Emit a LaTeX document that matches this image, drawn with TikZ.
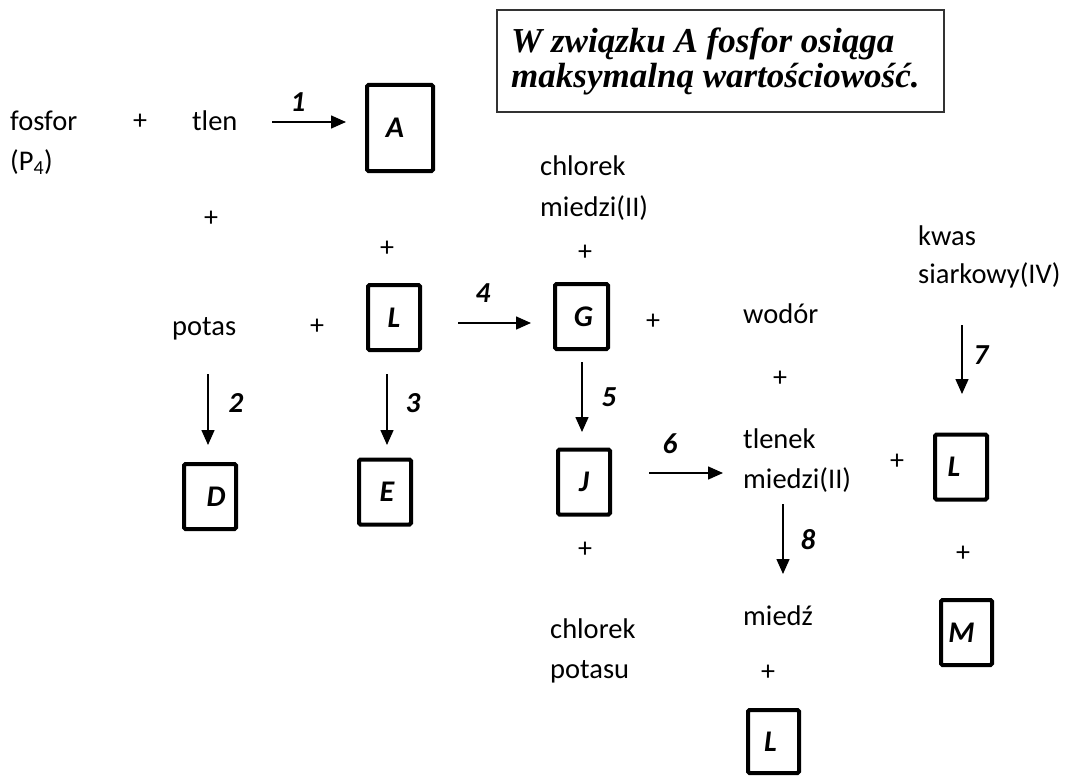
\documentclass[tikz,border=0pt]{standalone}
\usepackage{fontspec}
\setmainfont{Carlito}
\newfontfamily\serifbi{Liberation Serif}
\usetikzlibrary{arrows.meta}

\tikzset{
  txt/.style={anchor=base west, inner sep=0pt, font=\fontsize{28.5}{28.5}\selectfont},
  plus/.style={inner sep=0pt, font=\fontsize{28}{28}\selectfont},
  num/.style={inner sep=0pt, font=\fontsize{29}{29}\selectfont\bfseries\itshape},
  box/.style={draw, line width=4pt, rounded corners=1.5pt, inner sep=0pt,
    minimum width=52pt, minimum height=65pt,
    font=\fontsize{30}{30}\selectfont\bfseries\itshape},
  note/.style={anchor=base west, inner sep=0pt,
    font=\serifbi\bfseries\itshape\fontsize{35}{35}\selectfont},
  arr/.style={line width=1.5pt, -{Triangle[length=15pt,width=13pt]}},
}

\begin{document}
\begin{tikzpicture}[x=1pt,y=-1pt]
\useasboundingbox (0,0) rectangle (1069,776);

% note box
\draw[line width=1.2pt, black!80] (497,10) rectangle (944,112);
\node[note] (note1) at (511,53) {W związku A fosfor osiąga};
\node[note] (note2) at (511,88) {maksymalną wartościowość.};

% reaction 1
\node[txt] (fosfor) at (10,130) {fosfor};
\node[txt] (p4) at (10,170) {(P\textsubscript{4})};
\node[plus] (p1) at (140,122) {+};
\node[txt] (tlen) at (192,130) {tlen};
\node[box, minimum width=66pt, minimum height=86pt] (A) at (400,128) {\kern-10pt A};
\coordinate (a1s) at (272,122);
\coordinate (a1e) at (346,122);
\draw[arr] (a1s) -- (a1e);
\node[num] (n1) at (298,102) {1};

\node[plus] (p2) at (211,219) {+};
\node[plus] (p3) at (387,249) {+};

% copper(II) chloride
\node[txt] (chl1) at (540,175) {chlorek};
\node[txt] (chl2) at (540,216) {miedzi(II)};
\node[plus] (p4a) at (585,253) {+};

% sulfurous acid
\node[txt] (kw1) at (918,245) {kwas};
\node[txt] (kw2) at (918,283) {siarkowy(IV)};

% middle row
\node[txt] (potas) at (172,335) {potas};
\node[plus] (p5) at (317,327) {+};
\node[box] (L1) at (394,317.5) {L};
\coordinate (a4s) at (458,323);
\coordinate (a4e) at (531,323);
\draw[arr] (a4s) -- (a4e);
\node[num] (n4) at (483,293) {4};
\node[box, minimum width=53pt] (G) at (581.5,316.5) {\kern4pt G};
\node[plus] (p6) at (653,322) {+};
\node[txt] (wodor) at (743,323) {wodór};

\coordinate (a7s) at (962,325);
\coordinate (a7e) at (962,394);
\draw[arr] (a7s) -- (a7e);
\node[num] (n7) at (981,355) {7};

\node[plus] (p7) at (780,379) {+};

% arrows 2, 3, 5
\coordinate (a2s) at (208,374);
\coordinate (a2e) at (208,445);
\draw[arr] (a2s) -- (a2e);
\node[num] (n2) at (236,403) {2};
\coordinate (a3s) at (387,374);
\coordinate (a3e) at (387,445);
\draw[arr] (a3s) -- (a3e);
\node[num] (n3) at (413,403) {3};
\coordinate (a5s) at (582,362);
\coordinate (a5e) at (582,432);
\draw[arr] (a5s) -- (a5e);
\node[num] (n5) at (609,397) {5};

% lower row
\node[box] (D) at (210,496.5) {\kern12pt D};
\node[box] (E) at (385,492) {\kern4pt E};
\node[box] (J) at (584,482) {J};

\coordinate (a6s) at (649,473);
\coordinate (a6e) at (723,473);
\draw[arr] (a6s) -- (a6e);
\node[num] (n6) at (670,444) {6};

\node[txt] (tl1) at (743,448) {tlenek};
\node[txt] (tl2) at (743,488) {miedzi(II)};
\node[plus] (p8) at (897,462) {+};
\node[box] (L2) at (961,467) {\kern-14pt L};

\coordinate (a8s) at (783,504);
\coordinate (a8e) at (783,574);
\draw[arr] (a8s) -- (a8e);
\node[num] (n8) at (808,540) {8};

\node[plus] (p9) at (585,550) {+};
\node[txt] (kcl1) at (550,638) {chlorek};
\node[txt] (kcl2) at (550,678) {potasu};

\node[txt] (cu) at (743,625) {miedź};
\node[plus] (p10) at (768,673) {+};
\node[box, minimum width=51pt, minimum height=63pt] (L3) at (773.5,741.5) {\kern-6pt L};

\node[plus] (p11) at (963,554) {+};
\node[box, minimum width=51pt] (M) at (966.5,632.5) {\kern-10pt M};
\end{tikzpicture}
\end{document}
